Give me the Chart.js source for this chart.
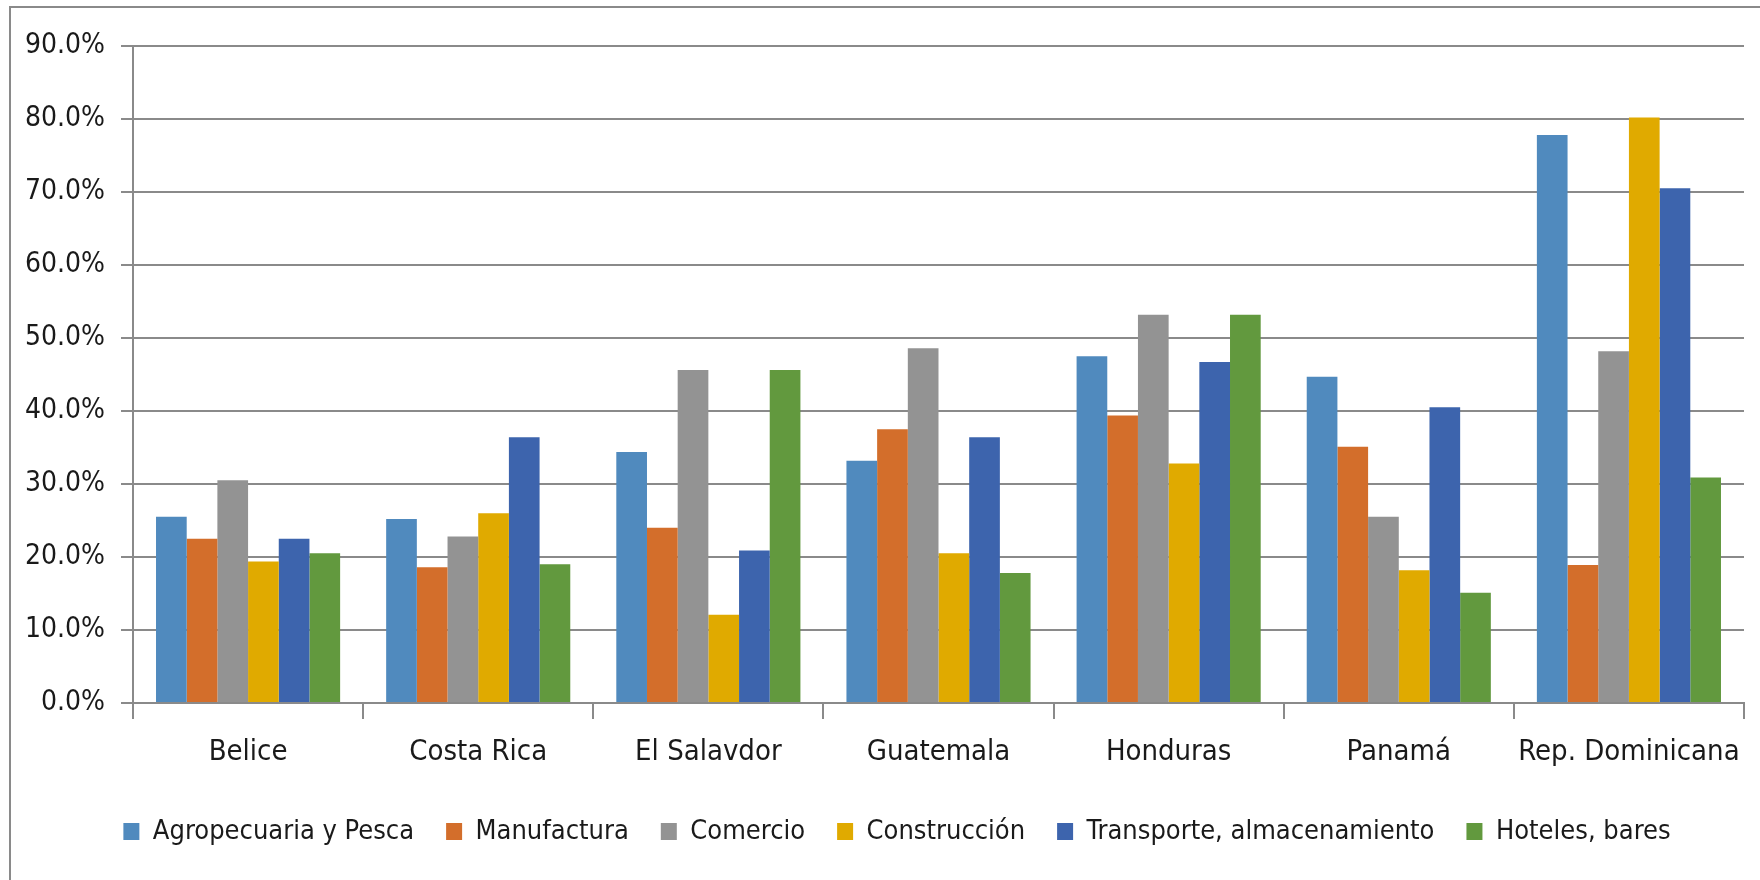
<!DOCTYPE html>
<html>
<head>
<meta charset="utf-8">
<script src="https://cdn.jsdelivr.net/npm/chart.js@4"></script>
<style>
  html, body { margin: 0; padding: 0; background: #fff; }
  #wrap { position: relative; width: 1760px; height: 880px; overflow: hidden; }
  #frame { position: absolute; left: 9px; top: 6px; width: 1800px; height: 900px;
           border-left: 2px solid #8a8a8a; border-top: 2px solid #8a8a8a; pointer-events: none; }
  canvas { position: absolute; left: 0; top: 0; }
</style>
</head>
<body>
<div id="wrap">
  <canvas id="c" width="1760" height="880"></canvas>
  <div id="frame"></div>
</div>
<script>
const categories = ["Belice", "Costa Rica", "El Salavdor", "Guatemala", "Honduras", "Panamá", "Rep. Dominicana"];
const seriesNames = ["Agropecuaria y Pesca", "Manufactura", "Comercio", "Construcción", "Transporte, almacenamiento", "Hoteles, bares"];
const agropecuaria = [25.5, 25.2, 34.4, 33.2, 47.5, 44.7, 77.8];
const manufactura  = [22.5, 18.6, 24.0, 37.5, 39.4, 35.1, 18.9];
const comercio     = [30.5, 22.8, 45.6, 48.6, 53.2, 25.5, 48.2];
const construccion = [19.4, 26.0, 12.1, 20.5, 32.8, 18.2, 80.2];
const transporte   = [22.5, 36.4, 20.9, 36.4, 46.7, 40.5, 70.5];
const hoteles      = [20.5, 19.0, 45.6, 17.8, 53.2, 15.1, 30.9];
const yTicks = [0, 10, 20, 30, 40, 50, 60, 70, 80, 90];
const colors = ["#508ABE", "#D36E2B", "#939393", "#E0AA00", "#3D64AD", "#62993E"];

const seriesValues = [agropecuaria, manufactura, comercio, construccion, transporte, hoteles];
const FONT = "'Liberation Sans Narrow', 'DejaVu Sans Condensed', 'Liberation Sans', sans-serif";

const shiftLegend = {
  id: 'shiftLegend',
  afterLayout(chart) {
    if (chart.legend) { chart.legend.left += 38; }
  }
};

new Chart(document.getElementById('c'), {
  type: 'bar',
  data: {
    labels: categories,
    datasets: seriesNames.map((n, i) => ({
      label: n,
      data: seriesValues[i],
      backgroundColor: colors[i],
      borderWidth: 0,
      categoryPercentage: 0.8,
      barPercentage: 1.0
    }))
  },
  plugins: [shiftLegend],
  options: {
    responsive: false,
    animation: false,
    devicePixelRatio: 1,
    layout: { padding: { top: 46, left: 12, right: 16, bottom: 25 } },
    plugins: {
      tooltip: { enabled: false },
      legend: {
        position: 'bottom',
        labels: {
          font: { family: FONT, size: 27 },
          color: '#1a1a1a',
          boxWidth: 16,
          boxHeight: 17,
          padding: 32
        }
      }
    },
    scales: {
      x: {
        afterFit: (s) => { s.height = 83; },
        grid: { drawOnChartArea: false, drawTicks: true, tickLength: 16, color: '#8a8a8a', lineWidth: 2 },
        border: { display: true, color: '#8a8a8a', width: 2 },
        ticks: { font: { family: FONT, size: 29 }, color: '#1a1a1a', padding: 16, maxRotation: 0 }
      },
      y: {
        min: 0, max: 90,
        afterFit: (s) => { s.width = 121; },
        afterBuildTicks: (s) => { s.ticks = yTicks.map(v => ({ value: v })); },
        grid: { color: '#8a8a8a', lineWidth: 2, tickLength: 12, drawTicks: true },
        border: { display: true, color: '#8a8a8a', width: 2 },
        ticks: {
          font: { family: FONT, size: 28 }, color: '#1a1a1a', padding: 16,
          callback: (v) => v.toFixed(1) + '%'
        }
      }
    }
  }
});
</script>
</body>
</html>
